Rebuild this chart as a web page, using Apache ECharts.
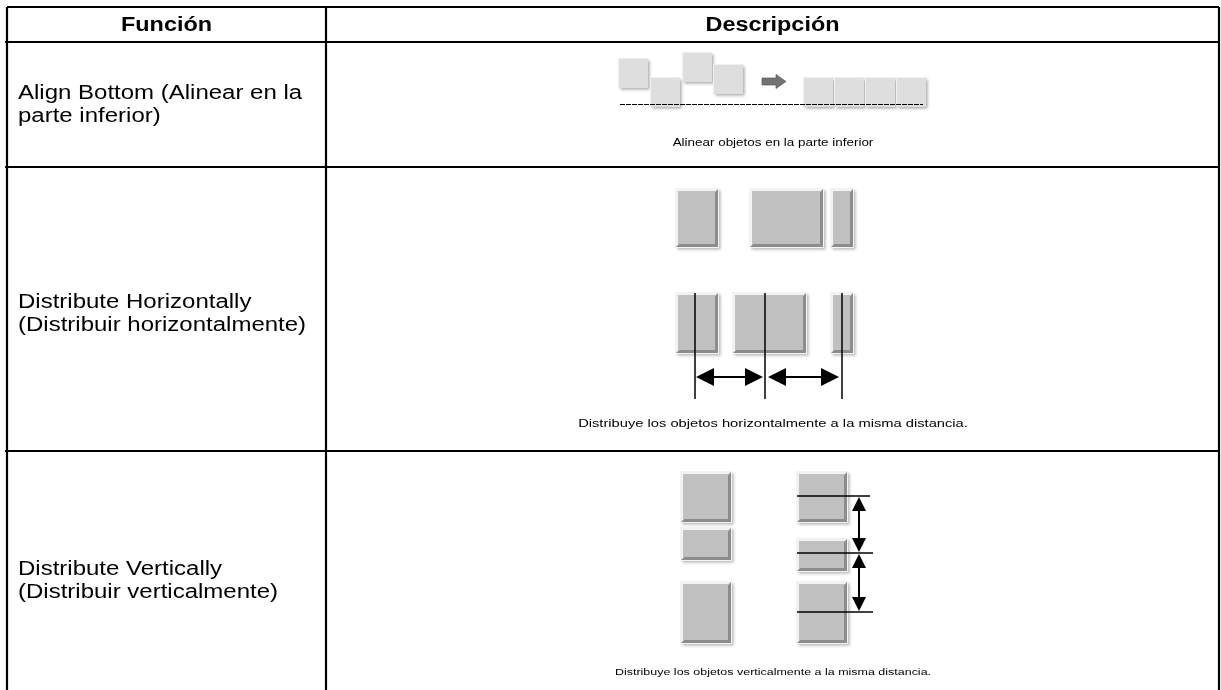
<!DOCTYPE html>
<html>
<head>
<meta charset="utf-8">
<script src="https://cdn.jsdelivr.net/npm/echarts@6/dist/echarts.min.js"></script>
<style>html,body{margin:0;padding:0;background:#fff}#c{width:1221px;height:690px}</style>
</head>
<body>
<div id="c"></div>
<script>
// ---- table content ----
const headers = ['Función', 'Descripción'];
const functionLines = [
  ['Align Bottom (Alinear en la', 'parte inferior)'],
  ['Distribute Horizontally', '(Distribuir horizontalmente)'],
  ['Distribute Vertically', '(Distribuir verticalmente)']
];
const captions = [
  'Alinear objetos en la parte inferior',
  'Distribuye los objetos horizontalmente a la misma distancia.',
  'Distribuye los objetos verticalmente a la misma distancia.'
];

// ---- layout ----
const L = { left: 7, right: 1219, top: 7, header: 42, col: 326, rows: [167, 451], bottom: 690 };
const rowTextY = [[93, 116.5], [302, 325], [569, 592]];
const captionY = [142.5, 424.5, 672.5];
const captionSize = [11, 10.5, 9.6];
const captionScale = [1.22, 1.4, 1.3];
const FONT = '"Liberation Sans", Arial, Helvetica, sans-serif';

const g = [];
function line(x1, y1, x2, y2, w, dash) {
  g.push({ type: 'line', shape: { x1, y1, x2, y2 }, style: { stroke: '#000', lineWidth: w, lineDash: dash || null } });
}
function text(str, x, y, size, bold, align, sx) {
  g.push({
    type: 'text', x, y, scaleX: sx || 1.2,
    style: { text: str, font: (bold ? 'bold ' : '') + size + 'px ' + FONT, fill: '#000',
      textAlign: align, textVerticalAlign: 'middle', align: align, verticalAlign: 'middle' }
  });
}
function lightSquare(x, y, w, h) {
  g.push({ type: 'rect', shape: { x, y, width: w, height: h },
    style: { fill: '#dedede', shadowBlur: 3, shadowColor: 'rgba(0,0,0,0.35)', shadowOffsetX: 1.5, shadowOffsetY: 1.5 } });
  g.push({ type: 'polyline', shape: { points: [[x + 0.5, y + h - 1], [x + 0.5, y + 0.5], [x + w - 1, y + 0.5]] },
    style: { stroke: '#f0f0f0', lineWidth: 1, fill: null } });
}
function bevel(x, y, w, h) {
  g.push({ type: 'rect', shape: { x: x - 1, y: y - 1, width: w + 2, height: h + 2 },
    style: { fill: '#f2f2f2', shadowBlur: 3, shadowColor: 'rgba(0,0,0,0.3)', shadowOffsetX: 1.5, shadowOffsetY: 1.5 } });
  g.push({ type: 'polygon', shape: { points: [[x + w, y], [x + w, y + h], [x, y + h], [x + 3, y + h - 3], [x + w - 3, y + h - 3], [x + w - 3, y + 3]] },
    style: { fill: '#8c8c8c' } });
  g.push({ type: 'rect', shape: { x: x + 2, y: y + 2, width: w - 5, height: h - 5 }, style: { fill: '#c0c0c0' } });
}
function hArrow(x1, x2, y) {
  const hl = 18, hw = 9;
  line(x1 + hl - 2, y, x2 - hl + 2, y, 2);
  g.push({ type: 'polygon', shape: { points: [[x1, y], [x1 + hl, y - hw], [x1 + hl, y + hw]] }, style: { fill: '#000' } });
  g.push({ type: 'polygon', shape: { points: [[x2, y], [x2 - hl, y - hw], [x2 - hl, y + hw]] }, style: { fill: '#000' } });
}
function vArrow(x, y1, y2) {
  const hl = 14, hw = 7;
  line(x, y1 + hl - 2, x, y2 - hl + 2, 2);
  g.push({ type: 'polygon', shape: { points: [[x, y1], [x - hw, y1 + hl], [x + hw, y1 + hl]] }, style: { fill: '#000' } });
  g.push({ type: 'polygon', shape: { points: [[x, y2], [x - hw, y2 - hl], [x + hw, y2 - hl]] }, style: { fill: '#000' } });
}

// ---- row 1 diagram ----
[[618, 58], [650, 77], [682, 52], [713, 64]].forEach(p => lightSquare(p[0], p[1], 30, 30));
[803, 834, 865, 896].forEach(x => lightSquare(x, 77, 30, 30));
line(620, 104.5, 923, 104.5, 1, [5, 1]);
g.push({ type: 'polygon', shape: { points: [[762, 78], [776, 78], [776, 74.5], [786, 81.5], [776, 88.5], [776, 85], [762, 85]] },
  style: { fill: '#737373', stroke: '#4a4a4a', lineWidth: 0.6 } });

// ---- row 2 diagram ----
bevel(676, 189, 42, 58); bevel(750, 189, 73, 58); bevel(831, 189, 22, 58);
bevel(676, 293, 42, 60); bevel(733, 293, 73, 60); bevel(831, 293, 22, 60);
[695, 765, 842].forEach(x => line(x, 293, x, 399, 1.5));
hArrow(696, 763, 377); hArrow(768, 839, 377);

// ---- row 3 diagram ----
bevel(681, 472, 50, 50); bevel(681, 528, 50, 32); bevel(681, 582, 50, 61);
bevel(797, 472, 50, 50); bevel(797, 539, 50, 32); bevel(797, 582, 50, 61);
line(797, 496, 870, 496, 1.5); line(797, 553, 873, 553, 1.5); line(797, 612, 873, 612, 1.5);
vArrow(859, 497, 552); vArrow(859, 554, 611);

// ---- table grid ----
line(L.left, L.top, L.right, L.top, 2.2);
line(L.left - 2, L.header, L.right, L.header, 2.2);
L.rows.forEach(y => line(L.left - 2, y, L.right, y, 2.2));
line(L.left, L.top, L.left, L.bottom, 2.2);
line(L.col, L.top, L.col, L.bottom, 2.2);
line(L.right, L.top, L.right, L.bottom, 2.2);

// ---- texts ----
text(headers[0], (L.left + L.col) / 2, 26, 19.5, true, 'center', 1.2);
text(headers[1], (L.col + L.right) / 2, 26, 19.5, true, 'center', 1.2);
functionLines.forEach((ls, i) => ls.forEach((s, j) => text(s, 18, rowTextY[i][j], 20, false, 'left', 1.2)));
captions.forEach((s, i) => text(s, 773, captionY[i], captionSize[i], false, 'center', captionScale[i]));

const chart = echarts.init(document.getElementById('c'), null, { renderer: 'canvas' });
chart.setOption({ backgroundColor: '#fff', animation: false, graphic: { elements: g } });
</script>
</body>
</html>
